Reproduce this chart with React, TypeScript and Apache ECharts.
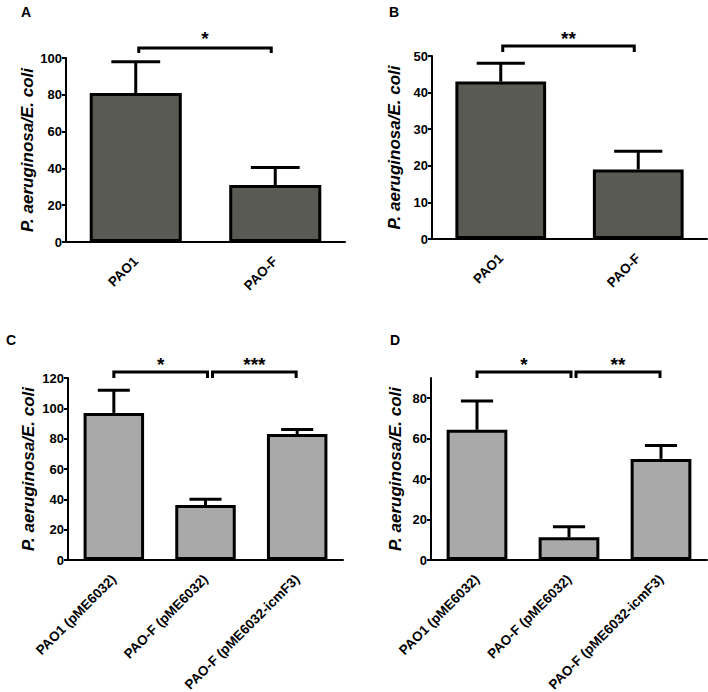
import React, { useEffect, useRef } from 'react';
import * as echarts from 'echarts';

// ---- data ----
const catsAB = ['PAO1', 'PAO-F'];
const catsCD = ['PAO1 (pME6032)', 'PAO-F (pME6032)', 'PAO-F (pME6032-icmF3)'];

const meansA = [81, 31];
const semA = [17, 9.5];
const meansB = [43, 19];
const semB = [5, 5];
const meansC = [97, 36.2, 83];
const semC = [15, 3.8, 3];
const meansD = [64.4, 11.2, 50];
const semD = [14.2, 5.3, 6.6];

const sigA = [[0, 1]];
const starsA = ['*'];
const sigB = [[0, 1]];
const starsB = ['**'];
const sigC = [[0, 1], [1, 2]];
const starsC = ['*', '***'];
const sigD = [[0, 1], [1, 2]];
const starsD = ['*', '**'];

const yTicksA = [0, 20, 40, 60, 80, 100];
const yTicksB = [0, 10, 20, 30, 40, 50];
const yTicksC = [0, 20, 40, 60, 80, 100, 120];
const yTicksD = [0, 20, 40, 60, 80];

const yTitle = 'P. aeruginosa/E. coli';
const letters = ['A', 'B', 'C', 'D'];

const FONT = 'Arial, Liberation Sans, sans-serif';

type Panel = {
  cats: string[]; means: number[]; sem: number[]; sig: number[][]; stars: string[];
  ticks: number[]; yMax: number; interval: number; color: string;
  grid: { left: number; top: number; width: number; height: number };
  brOff: number[][]; lineGap: number; armGap: number; starGap: number;
  letterPos: number[]; nameGap: number;
};

const panels: Panel[] = [
  { cats: catsAB, means: meansA, sem: semA, sig: sigA, stars: starsA, ticks: yTicksA, yMax: 100, interval: 20,
    color: '#5a5a55', grid: { left: 66, top: 58, width: 279, height: 184 },
    brOff: [[3, -4]], lineGap: 10, armGap: 5, starGap: 20, letterPos: [21, 5], nameGap: 30 },
  { cats: catsAB, means: meansB, sem: semB, sig: sigB, stars: starsB, ticks: yTicksB, yMax: 50, interval: 10,
    color: '#5a5a55', grid: { left: 432, top: 56, width: 275, height: 183 },
    brOff: [[2, -4]], lineGap: 10, armGap: 4, starGap: 18, letterPos: [389, 5], nameGap: 29 },
  { cats: catsCD, means: meansC, sem: semC, sig: sigC, stars: starsC, ticks: yTicksC, yMax: 120, interval: 20,
    color: '#a9a9a9', grid: { left: 68, top: 378, width: 275, height: 182 },
    brOff: [[0, 2], [7, -1]], lineGap: 6, armGap: 0, starGap: 14, letterPos: [6, 333], nameGap: 31 },
  { cats: catsCD, means: meansD, sem: semD, sig: sigD, stars: starsD, ticks: yTicksD, yMax: 90, interval: 10,
    color: '#a9a9a9', grid: { left: 431, top: 378, width: 276, height: 182 },
    brOff: [[0, 2], [7, -1]], lineGap: 6, armGap: 0, starGap: 14, letterPos: [390, 333], nameGap: 27 },
];

export default function App() {
  const ref = useRef<HTMLDivElement>(null);
  useEffect(() => {
    if (!ref.current) return;
    const chart = echarts.init(ref.current, null, { renderer: 'svg' });
    const grids: any[] = [];
    const xAxes: any[] = [];
    const yAxes: any[] = [];
    const series: any[] = [];
    const graphic: any[] = [];
    panels.forEach((p, i) => {
      grids.push({ ...p.grid, containLabel: false, outerBoundsMode: 'none' });
      xAxes.push({
        gridIndex: i, type: 'category', data: p.cats,
        axisLine: { lineStyle: { color: '#000', width: 2 } },
        axisTick: { alignWithLabel: true, length: 5, lineStyle: { color: '#000', width: 2 } },
        axisLabel: { rotate: 45, interval: 0, color: '#000', fontWeight: 'bold', fontSize: 13.5, fontFamily: FONT, margin: 17 },
      });
      yAxes.push({
        gridIndex: i, type: 'value', min: 0, max: p.yMax, interval: p.interval,
        splitLine: { show: false },
        axisLine: { show: true, lineStyle: { color: '#000', width: 2 } },
        axisTick: { show: true, length: 4, customValues: p.ticks, lineStyle: { color: '#000', width: 2 } },
        axisLabel: { color: '#000', fontWeight: 'bold', fontSize: 13, fontFamily: FONT, margin: 4, customValues: p.ticks },
        name: yTitle, nameLocation: 'middle', nameGap: p.nameGap,
        nameTextStyle: { fontStyle: 'italic', fontWeight: 'bold', fontSize: 17, color: '#000', fontFamily: FONT },
      });
      series.push({
        type: 'bar', xAxisIndex: i, yAxisIndex: i, data: p.means, barWidth: '66%',
        itemStyle: { color: p.color, borderColor: '#000', borderWidth: 3 },
      });
      series.push({
        type: 'custom', xAxisIndex: i, yAxisIndex: i, z: 5,
        data: p.means.map((m, k) => [k, m, p.sem[k]]),
        renderItem: (params: any, api: any) => {
          const x = api.value(0), m = api.value(1), e = api.value(2);
          const a = api.coord([x, m]);
          const b = api.coord([x, m + e]);
          const bw = api.size([1, 0])[0];
          const cap = (bw * 0.35) / 2;
          const st = { stroke: '#000', lineWidth: 3 };
          return {
            type: 'group', children: [
              { type: 'line', shape: { x1: a[0], y1: a[1], x2: b[0], y2: b[1] }, style: st },
              { type: 'line', shape: { x1: b[0] - cap, y1: b[1], x2: b[0] + cap, y2: b[1] }, style: st },
            ],
          };
        },
      });
      series.push({
        type: 'custom', xAxisIndex: i, yAxisIndex: i, z: 5,
        data: p.sig.map((s) => [s[0], s[1]]),
        renderItem: (params: any, api: any) => {
          const k = params.dataIndex;
          const p0 = api.coord([api.value(0), 0]);
          const p1 = api.coord([api.value(1), 0]);
          const x0 = p0[0] + p.brOff[k][0];
          const x1 = p1[0] + p.brOff[k][1];
          const top = params.coordSys.y;
          const yl = top - p.lineGap;
          const ya = top - p.armGap;
          return {
            type: 'group', children: [
              { type: 'polyline', shape: { points: [[x0, ya], [x0, yl], [x1, yl], [x1, ya]] },
                style: { stroke: '#000', lineWidth: 3, fill: 'none', lineJoin: 'miter' } },
              { type: 'text', x: (x0 + x1) / 2, y: top - p.starGap,
                style: { text: p.stars[k], fontSize: 19, fontWeight: 'bold', fontFamily: FONT, fill: '#000',
                  align: 'center', verticalAlign: 'middle' } },
            ],
          };
        },
      });
      graphic.push({
        type: 'text', left: p.letterPos[0], top: p.letterPos[1],
        style: { text: letters[i], fontSize: 14, fontWeight: 'bold', fontFamily: FONT, fill: '#000' },
      });
    });
    chart.setOption({
      animation: false,
      backgroundColor: '#fff',
      grid: grids, xAxis: xAxes, yAxis: yAxes, series, graphic,
    });
    return () => chart.dispose();
  }, []);
  return <div ref={ref} style={{ position: 'absolute', left: 0, top: 0, width: 708, height: 692 }} />;
}
